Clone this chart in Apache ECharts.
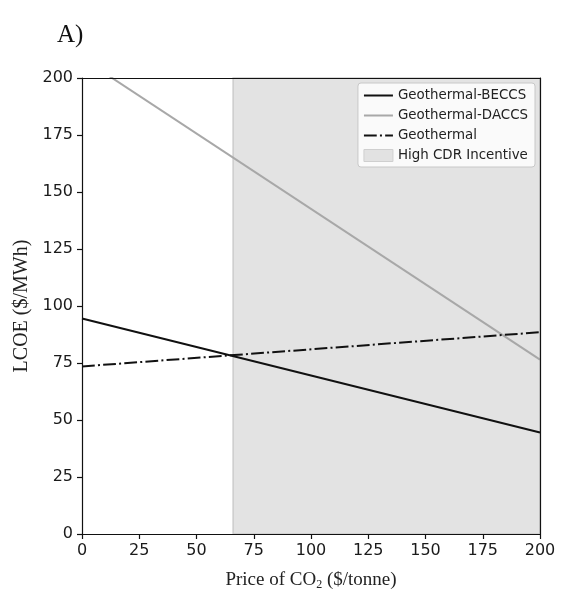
<!DOCTYPE html>
<html>
<head>
<meta charset="utf-8">
<script src="https://cdn.jsdelivr.net/npm/echarts@6/dist/echarts.min.js"></script>
<style>
  html, body { margin: 0; padding: 0; background: #fff; }
  #chart { width: 573px; height: 608px; }
</style>
</head>
<body>
<div id="chart"></div>
<script>
// CO2 price (x) and levelised cost of electricity for each pathway
const co2Price = [0, 200];
const becccsLcoe = [94.5, 44.5];
const dacssLcoe = [208.7, 76.5];
const geoLcoe = [73.5, 88.5];
const incentiveRange = [66, 200];
const xTicks = [0, 25, 50, 75, 100, 125, 150, 175, 200];
const yTicks = [0, 25, 50, 75, 100, 125, 150, 175, 200];

const pairs = (xs, ys) => xs.map((x, i) => [x, ys[i]]);
const tickFont = { fontFamily: 'DejaVu Sans', fontSize: 16, color: '#1a1a1a' };
const serif = 'Liberation Serif';
const frameLine = { show: true, onZero: false, lineStyle: { color: '#111', width: 1.2 } };
const hidden = { show: false };

const chart = echarts.init(document.getElementById('chart'), null, { renderer: 'canvas' });
chart.setOption({
  backgroundColor: '#fff',
  animation: false,
  title: {
    text: 'A)', left: 52, top: 18,
    textStyle: { fontFamily: serif, fontSize: 25, fontWeight: 'normal', color: '#111' }
  },
  grid: { left: 82, right: 33, top: 78, bottom: 74 },
  legend: {
    orient: 'vertical', right: 38, top: 83,
    itemWidth: 29, itemHeight: 12, itemGap: 7,
    padding: [6, 7, 5, 5],
    backgroundColor: 'rgba(255,255,255,0.8)',
    borderColor: '#c8c8c8', borderWidth: 1, borderRadius: 3,
    textStyle: { fontFamily: 'DejaVu Sans', fontSize: 13.4, color: '#222' },
    data: [
      { name: 'Geothermal-BECCS', itemStyle: { opacity: 0 } },
      { name: 'Geothermal-DACCS', itemStyle: { opacity: 0 } },
      { name: 'Geothermal', itemStyle: { opacity: 0 } },
      { name: 'High CDR Incentive', icon: 'rect', itemStyle: { color: '#e2e2e2', borderColor: '#cfcfcf', borderWidth: 1 } }
    ]
  },
  xAxis: [
    {
      type: 'value', min: 0, max: 200, interval: 25, z: 10,
      name: 'Price of CO{sub|2} ($/tonne)',
      nameLocation: 'middle', nameGap: 35,
      nameTextStyle: {
        fontFamily: serif, fontSize: 19, color: '#222',
        rich: { sub: { fontFamily: serif, fontSize: 12, verticalAlign: 'bottom', padding: [10, 0, 0, 0], color: '#222' } }
      },
      axisLine: frameLine,
      axisTick: { show: true, length: 5, lineStyle: { color: '#111', width: 1.2 } },
      axisLabel: Object.assign({ margin: 9, formatter: v => xTicks.includes(v) ? String(v) : '' }, tickFont),
      splitLine: hidden
    },
    {
      type: 'value', min: 0, max: 200, position: 'top', z: 10,
      axisLine: frameLine, axisTick: hidden, axisLabel: hidden, splitLine: hidden
    }
  ],
  yAxis: [
    {
      type: 'value', min: 0, max: 200, interval: 25, z: 10,
      name: 'LCOE ($/MWh)',
      nameLocation: 'middle', nameGap: 44, nameRotate: 90,
      nameTextStyle: { fontFamily: serif, fontSize: 20, color: '#222' },
      axisLine: frameLine,
      axisTick: { show: true, length: 5, lineStyle: { color: '#111', width: 1.2 } },
      axisLabel: Object.assign({ margin: 9, formatter: v => yTicks.includes(v) ? String(v) : '' }, tickFont),
      splitLine: hidden
    },
    {
      type: 'value', min: 0, max: 200, position: 'right', z: 10,
      axisLine: frameLine, axisTick: hidden, axisLabel: hidden, splitLine: hidden
    }
  ],
  series: [
    {
      name: 'High CDR Incentive', type: 'line', data: [], z: 1,
      itemStyle: { color: '#e2e2e2' },
      markArea: {
        silent: true,
        itemStyle: { color: '#e3e3e3', borderColor: '#cccccc', borderWidth: 1.5 },
        data: [[{ xAxis: incentiveRange[0] }, { xAxis: incentiveRange[1] }]]
      }
    },
    {
      name: 'Geothermal-BECCS', type: 'line', data: pairs(co2Price, becccsLcoe),
      showSymbol: false, symbol: 'none', z: 3, clip: true,
      lineStyle: { color: '#111', width: 2 }, itemStyle: { color: '#111' }
    },
    {
      name: 'Geothermal-DACCS', type: 'line', data: pairs(co2Price, dacssLcoe),
      showSymbol: false, symbol: 'none', z: 3, clip: true,
      lineStyle: { color: '#a8a8a8', width: 2 }, itemStyle: { color: '#a8a8a8' }
    },
    {
      name: 'Geothermal', type: 'line', data: pairs(co2Price, geoLcoe),
      showSymbol: false, symbol: 'none', z: 3, clip: true,
      lineStyle: { color: '#111', width: 2, type: [12.8, 3.2, 2, 3.2] }, itemStyle: { color: '#111' }
    }
  ]
});
</script>
</body>
</html>
